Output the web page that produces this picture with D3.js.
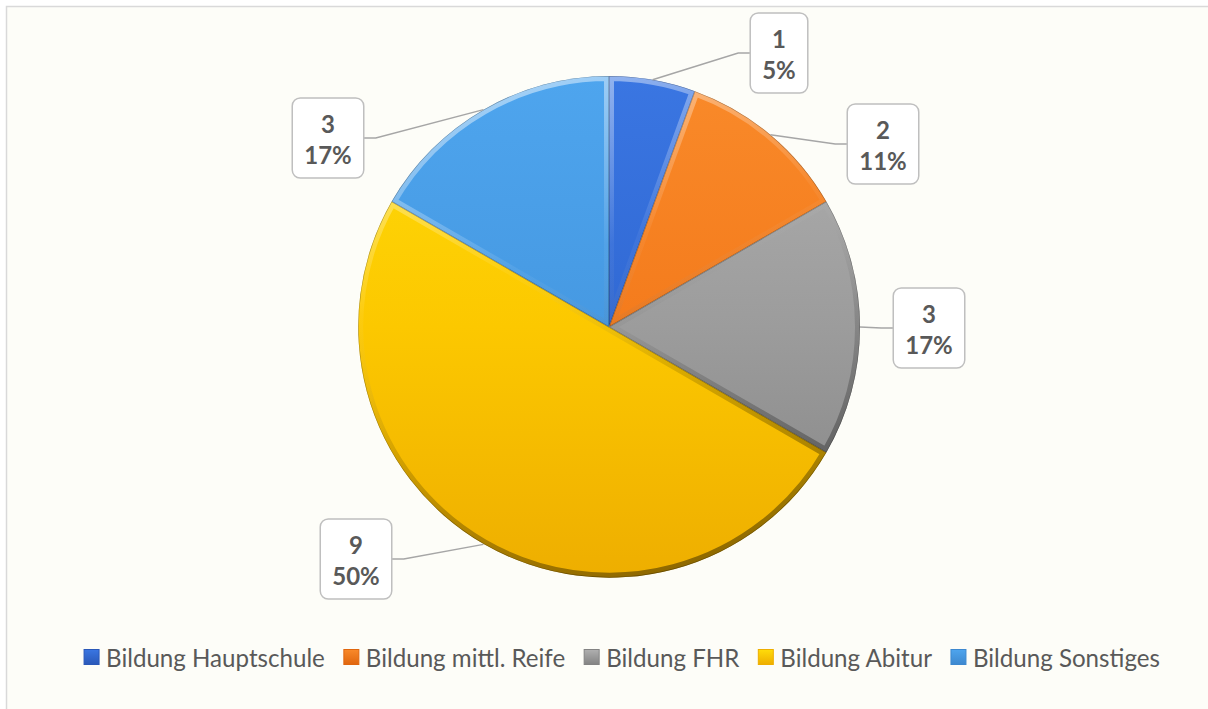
<!DOCTYPE html>
<html><head><meta charset="utf-8">
<script src="https://cdn.jsdelivr.net/npm/d3@7"></script>
<style>html,body{margin:0;padding:0;background:#fff;}svg{display:block;}</style>
</head><body>
<svg id="chart" width="1208" height="709"></svg>
<script>
// ---- data ----
const categories = ["Bildung Hauptschule", "Bildung mittl. Reife", "Bildung FHR", "Bildung Abitur", "Bildung Sonstiges"];
const values = [1, 2, 3, 9, 3];
const percentLabels = ["5%", "11%", "17%", "50%", "17%"];

// ---- styles / layout (not data) ----
const baseColors = ["#3169d4", "#f47b1c", "#9c9c9c", "#fcc800", "#4699e2"];
const topColors = ["#3a76e2", "#f98a2a", "#b0b0b0", "#ffdc0a", "#4ea5ee"];
const botColors = ["#2a58b8", "#e0660e", "#838383", "#eeae00", "#3d88cf"];
const labelOffsets = [[170, -274], [274, -183], [320, 1], [-253, 232], [-281, -189]];

const W = 1208, H = 709;
const cx = 609, cy = 327, R = 251;
const svg = d3.select("#chart");
const defs = svg.append("defs");

// chart area
svg.append("rect").attr("x", 6.5).attr("y", 6.5).attr("width", W + 10).attr("height", H + 10)
  .attr("fill", "#fdfdf8").attr("stroke", "#d9d9d9").attr("stroke-width", 1.5);

const pie = d3.pie().sort(null).value(d => d)(values);
const arc = d3.arc().innerRadius(0).outerRadius(R);

// gradients
pie.forEach((p, i) => {
  const g = defs.append("linearGradient").attr("id", "grad" + i)
    .attr("gradientUnits", "userSpaceOnUse").attr("x1", 0).attr("y1", -R).attr("x2", 0).attr("y2", R);
  g.append("stop").attr("offset", "0%").attr("stop-color", topColors[i]);
  g.append("stop").attr("offset", "50%").attr("stop-color", baseColors[i]);
  g.append("stop").attr("offset", "100%").attr("stop-color", botColors[i]);
});
const bev = defs.append("linearGradient").attr("id", "bevel")
  .attr("gradientUnits", "userSpaceOnUse").attr("x1", -R * 0.3).attr("y1", -R).attr("x2", R * 0.3).attr("y2", R);
bev.append("stop").attr("offset", "0%").attr("stop-color", "#ffffff").attr("stop-opacity", 0.5);
bev.append("stop").attr("offset", "35%").attr("stop-color", "#ffffff").attr("stop-opacity", 0.05);
bev.append("stop").attr("offset", "60%").attr("stop-color", "#000000").attr("stop-opacity", 0.12);
bev.append("stop").attr("offset", "100%").attr("stop-color", "#000000").attr("stop-opacity", 0.42);

const pieG = svg.append("g").attr("transform", `translate(${cx},${cy})`);
pie.forEach((p, i) => {
  defs.append("clipPath").attr("id", "clip" + i).append("path").attr("d", arc(p));
});
pieG.selectAll("path.slice").data(pie).join("path").attr("class", "slice")
  .attr("d", arc).attr("fill", (d, i) => `url(#grad${i})`);
pieG.selectAll("path.bevel").data(pie).join("path").attr("class", "bevel")
  .attr("d", arc).attr("fill", "none").attr("stroke", "url(#bevel)").attr("stroke-width", 10)
  .attr("stroke-linejoin", "round")
  .attr("clip-path", (d, i) => `url(#clip${i})`);
pieG.selectAll("path.edge").data(pie).join("path").attr("class", "edge")
  .attr("d", arc).attr("fill", "none").attr("stroke", "#000").attr("stroke-opacity", 0.3).attr("stroke-width", 1.2)
  .attr("clip-path", (d, i) => `url(#clip${i})`);

// labels
const fontFam = "Lato, 'Open Sans', sans-serif";
const labG = svg.append("g");
pie.forEach((p, i) => {
  const mid = (p.startAngle + p.endAngle) / 2;
  const ex = cx + R * Math.sin(mid), ey = cy - R * Math.cos(mid);
  const bx = cx + labelOffsets[i][0], by = cy + labelOffsets[i][1];
  const g = labG.append("g");
  const t1 = g.append("text").attr("x", bx).attr("y", by - 15).attr("text-anchor", "middle")
    .attr("dominant-baseline", "central").attr("font-family", fontFam).attr("font-weight", "bold")
    .attr("font-size", 24).attr("fill", "#595959").text(values[i]);
  const t2 = g.append("text").attr("x", bx).attr("y", by + 16).attr("text-anchor", "middle")
    .attr("dominant-baseline", "central").attr("font-family", fontFam).attr("font-weight", "bold")
    .attr("font-size", 24).attr("fill", "#595959").text(percentLabels[i]);
  const tw = Math.max(t1.node().getComputedTextLength(), t2.node().getComputedTextLength());
  const bw = tw + 24, bh = 80;
  const side = ex < bx ? bx - bw / 2 : bx + bw / 2;
  const elbow = ex < bx ? side - 12 : side + 12;
  labG.insert("path", ":first-child")
    .attr("d", d3.line()([[ex, ey], [elbow, by], [side, by]]))
    .attr("fill", "none").attr("stroke", "#a6a6a6").attr("stroke-width", 1.5);
  g.insert("rect", ":first-child").attr("x", bx - bw / 2).attr("y", by - bh / 2).attr("width", bw).attr("height", bh)
    .attr("rx", 8).attr("fill", "#ffffff").attr("stroke", "#bfbfbf").attr("stroke-width", 1.5);
});

// legend
const legG = svg.append("g");
const legY = 657;
const fs = 22;
let items = categories.map((c, i) => {
  const t = legG.append("text").attr("y", legY).attr("dominant-baseline", "central")
    .attr("font-family", fontFam).attr("font-size", fs).attr("fill", "#595959").text(c);
  return t;
});
const w0 = items[0].node().getComputedTextLength();
const scale = 219 / w0;
items.forEach(t => t.attr("font-size", fs * scale));
const widths = items.map(t => t.node().getComputedTextLength());
const mk = 15, mkGap = 7, itemGap = 19;
const total = widths.reduce((a, w) => a + mk + mkGap + w, 0) + itemGap * (widths.length - 1);
let x = 622 - total / 2;
items.forEach((t, i) => {
  const lg = defs.append("linearGradient").attr("id", "lg" + i).attr("x1", 0).attr("y1", 0).attr("x2", 0).attr("y2", 1);
  lg.append("stop").attr("offset", "0%").attr("stop-color", topColors[i]);
  lg.append("stop").attr("offset", "100%").attr("stop-color", botColors[i]);
  legG.append("rect").attr("x", x).attr("y", legY - mk / 2).attr("width", mk).attr("height", mk)
    .attr("fill", `url(#lg${i})`).attr("stroke", botColors[i]).attr("stroke-width", 1);
  t.attr("x", x + mk + mkGap);
  x += mk + mkGap + widths[i] + itemGap;
});
</script>
</body></html>
